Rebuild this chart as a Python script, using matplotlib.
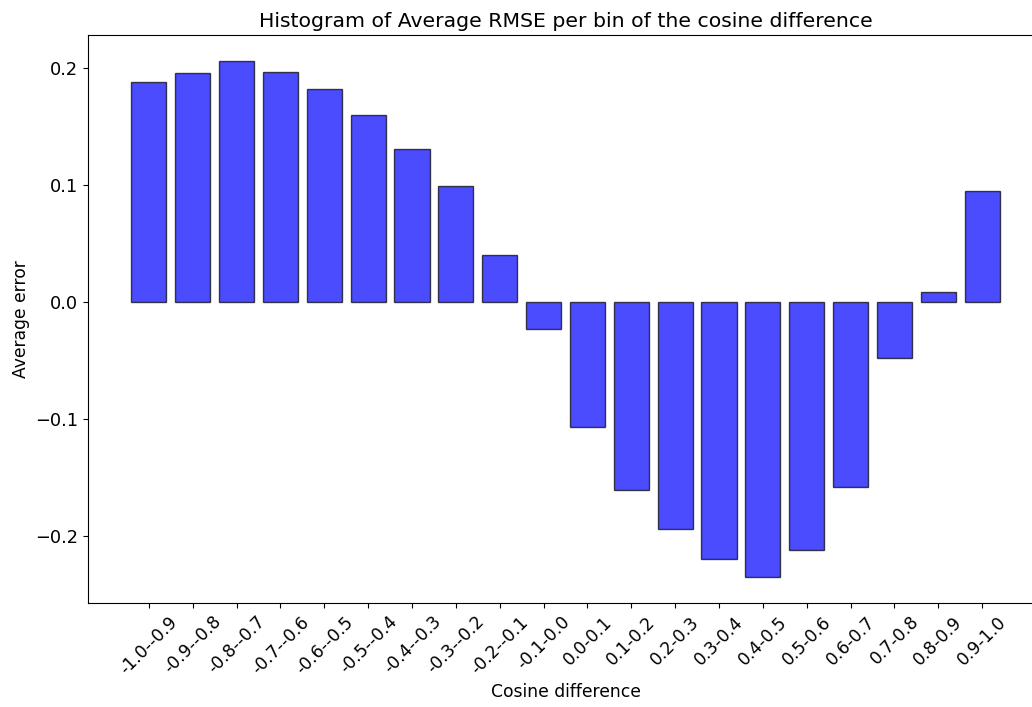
import matplotlib
matplotlib.use('Agg')
import matplotlib.pyplot as plt
import numpy as np

# bin labels of the cosine difference
bins = ['-1.0--0.9', '-0.9--0.8', '-0.8--0.7', '-0.7--0.6', '-0.6--0.5',
        '-0.5--0.4', '-0.4--0.3', '-0.3--0.2', '-0.2--0.1', '-0.1-0.0',
        '0.0-0.1', '0.1-0.2', '0.2-0.3', '0.3-0.4', '0.4-0.5',
        '0.5-0.6', '0.6-0.7', '0.7-0.8', '0.8-0.9', '0.9-1.0']

# average error per bin
avg_error = [0.188, 0.196, 0.2065, 0.197, 0.182,
             0.160, 0.131, 0.0995, 0.040, -0.023,
             -0.107, -0.161, -0.1945, -0.220, -0.2355,
             -0.2125, -0.158, -0.048, 0.0085, 0.095]

x = np.arange(len(bins))

fig = plt.figure(figsize=(10.32, 7.07), dpi=100)
# the original screenshot cuts off the right side of the axes
ax = fig.add_axes([88 / 1032, 104 / 707, 955 / 1032, 568 / 707])
ax.bar(x, avg_error, width=0.8, color='blue', edgecolor='black', alpha=0.7)
ax.set_xticks(x)
ax.set_xticklabels(bins, rotation=45, fontsize=12.3)
ax.tick_params(axis='y', labelsize=12.8)
ax.set_xlabel('Cosine difference', fontsize=12.3)
ax.set_ylabel('Average error', fontsize=12.3)
ax.set_title('Histogram of Average RMSE per bin of the cosine difference', fontsize=14.7)

fig.savefig('out.png', dpi=100)
